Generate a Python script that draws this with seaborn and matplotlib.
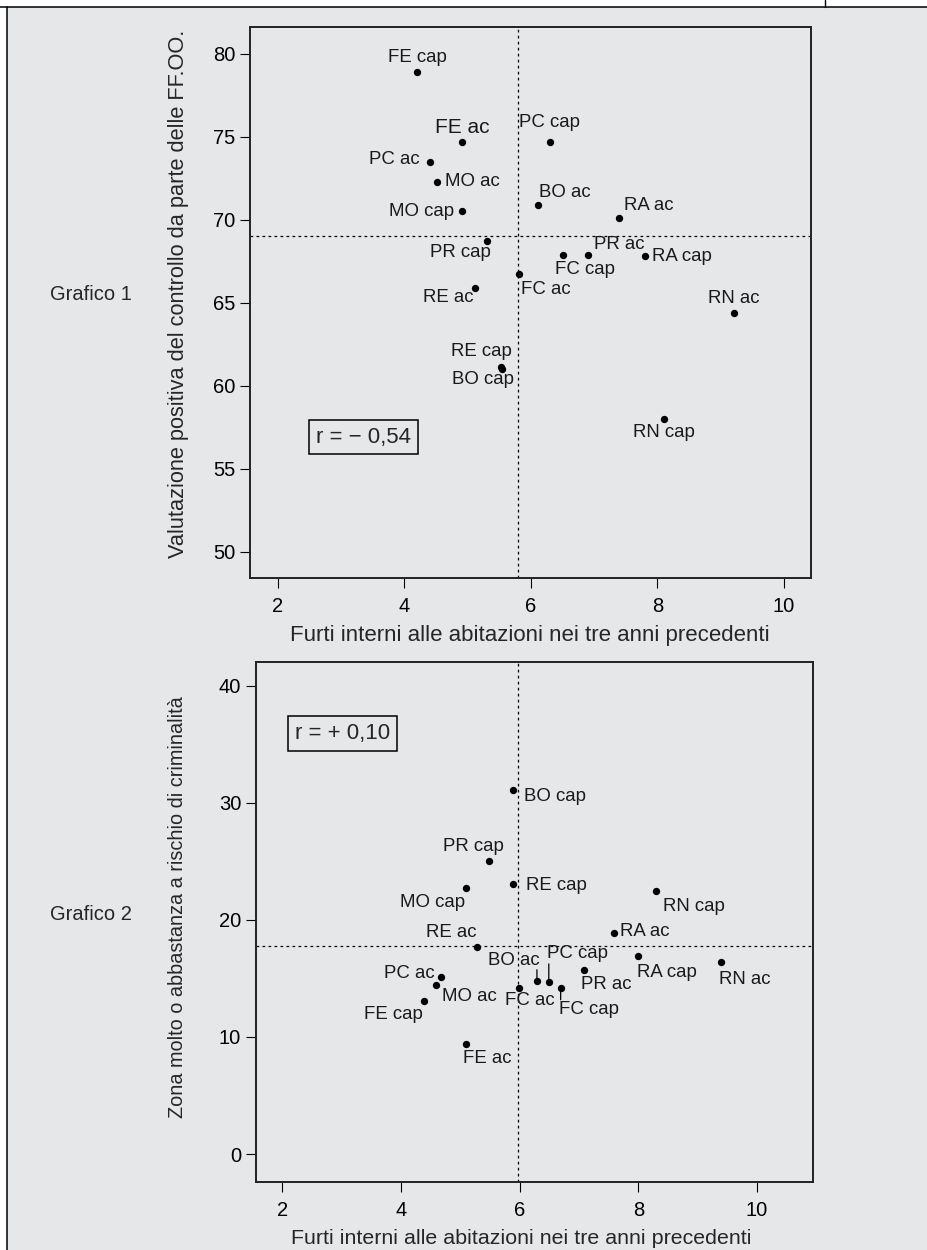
import matplotlib
matplotlib.use("Agg")
import matplotlib.pyplot as plt
import seaborn as sns
from matplotlib.patches import Rectangle
from matplotlib.lines import Line2D

# ---- Grafico 1 ----
labels_1 = ["FE cap", "FE ac", "PC cap", "PC ac", "MO ac", "BO ac", "RA ac", "MO cap", "PR cap",
            "FC cap", "PR ac", "RA cap", "FC ac", "RE ac", "RN ac", "RE cap", "BO cap", "RN cap"]
furti_1 = [4.20, 4.91, 6.30, 4.41, 4.52, 6.11, 7.40, 4.91, 5.31,
           6.50, 6.91, 7.81, 5.81, 5.12, 9.21, 5.53, 5.55, 8.11]
controllo_1 = [78.9, 74.7, 74.7, 73.5, 72.3, 70.9, 70.1, 70.5, 68.7,
               67.9, 67.9, 67.8, 66.7, 65.9, 64.4, 61.1, 61.0, 58.0]
media_x_1 = 5.80
media_y_1 = 69.0
r_1 = "r = \u2212 0,54"

# ---- Grafico 2 ----
labels_2 = ["BO cap", "PR cap", "RE cap", "MO cap", "RN cap", "RA ac", "RE ac", "RA cap", "RN ac",
            "PC ac", "PR ac", "MO ac", "BO ac", "PC cap", "FC ac", "FC cap", "FE cap", "FE ac"]
furti_2 = [5.89, 5.48, 5.89, 5.09, 8.29, 7.59, 5.28, 7.99, 9.39,
           4.68, 7.09, 4.59, 6.29, 6.49, 5.99, 6.69, 4.38, 5.09]
rischio_2 = [31.1, 25.0, 23.1, 22.7, 22.5, 18.9, 17.7, 16.9, 16.4,
             15.1, 15.7, 14.4, 14.8, 14.7, 14.2, 14.2, 13.1, 9.4]
media_x_2 = 5.97
media_y_2 = 17.8
r_2 = "r = + 0,10"

xlabel = "Furti interni alle abitazioni nei tre anni precedenti"
ylabel_1 = "Valutazione positiva del controllo da parte delle FF.OO."
ylabel_2 = "Zona molto o abbastanza a rischio di criminalità"

# label placement: (dx px, dy px, ha)
pos_1 = {"FE cap": (0, 14, "center"), "FE ac": (0, 14, "center"), "PC cap": (0, 19, "center"),
         "PC ac": (-11, 2, "right"), "MO ac": (8, 0, "left"), "MO cap": (-8, 0, "right"),
         "BO ac": (1, 12, "left"), "RA ac": (5, 13, "left"), "PR cap": (4, -11, "right"),
         "FC cap": (-8, -15, "left"), "PR ac": (6, 10, "left"), "RA cap": (7, 0, "left"),
         "FC ac": (2, -15, "left"), "RE ac": (-2, -10, "right"), "RN ac": (0, 14, "center"),
         "RE cap": (11, 16, "right"), "BO cap": (12, -10, "right"), "RN cap": (0, -14, "center")}
pos_2 = {"BO cap": (11, -7, "left"), "PR cap": (-15, 15, "center"), "RE cap": (13, -2, "left"),
         "MO cap": (-1, -14, "right"), "RN cap": (7, -16, "left"), "RA ac": (6, 1, "left"),
         "RE ac": (0, 14, "right"), "RA cap": (-1, -16, "left"), "RN ac": (-2, -17, "left"),
         "PC ac": (-7, 4, "right"), "PR ac": (-3, -14, "left"), "MO ac": (6, -11, "left"),
         "BO ac": (3, 20, "right"), "PC cap": (-2, 28, "left"), "FC ac": (-14, -13, "left"),
         "FC cap": (-2, -22, "left"), "FE cap": (-1, -14, "right"), "FE ac": (-3, -15, "left")}
leaders_2 = {"BO ac": 11, "PC cap": 18, "FC cap": -12}

BG = "#e6e7e9"
PX = 0.72  # points per pixel at 100 dpi

sns.set_style("ticks")
plt.rcParams["font.family"] = ["Liberation Sans", "DejaVu Sans"]
plt.rcParams["axes.unicode_minus"] = True


def draw_panel(ax, labels, xs, ys, pos, leaders, mx, my, r_text, r_xy, xlim, ylim, yticks, ylabel,
               xlab=(0.5, -0.085, 15.4), ylab=(-0.12, 0.5, 15.4), big=()):
    ax.set_facecolor(BG)
    sns.scatterplot(x=xs, y=ys, ax=ax, color="black", s=28, linewidth=0, legend=False, zorder=3)
    ax.axvline(mx, color="black", lw=0.9, ls=(0, (2.2, 2.6)), zorder=1)
    ax.axhline(my, color="black", lw=0.9, ls=(0, (2.2, 2.6)), zorder=1)
    for lab, x, y in zip(labels, xs, ys):
        dx, dy, ha = pos[lab]
        ax.annotate(lab, (x, y), xytext=(dx * PX, dy * PX), textcoords="offset points",
                    ha=ha, va="center", fontsize=15 if lab in big else 13.4, color="#1a1a1a")
        if lab in leaders:
            ax.annotate("", (x, y), xytext=(0, leaders[lab] * PX), textcoords="offset points",
                        arrowprops=dict(arrowstyle="-", lw=0.9, color="black", shrinkA=0, shrinkB=2))
    ax.text(r_xy[0], r_xy[1], r_text, transform=ax.transAxes, ha="center", va="center", fontsize=16,
            bbox=dict(boxstyle="square,pad=0.3", fc="none", ec="black", lw=1.1))
    ax.set_xlim(*xlim)
    ax.set_ylim(*ylim)
    ax.set_xticks([2, 4, 6, 8, 10])
    ax.set_yticks(yticks)
    ax.tick_params(direction="out", length=7.5, width=0.8, labelsize=14.5, pad=3, colors="black")
    ax.tick_params(axis="x", pad=6)
    ax.set_xlabel(xlabel, fontsize=xlab[2])
    ax.set_ylabel(ylabel, fontsize=ylab[2])
    ax.xaxis.set_label_coords(xlab[0], xlab[1])
    ax.yaxis.set_label_coords(ylab[0], ylab[1])
    for sp in ax.spines.values():
        sp.set_visible(True)
        sp.set_linewidth(1.4)
        sp.set_color("#222222")


fig = plt.figure(figsize=(9.27, 12.5), dpi=100, facecolor="white")
fig.patches.append(Rectangle((7 / 927, 0), 1, 1 - 7.3 / 1250, transform=fig.transFigure,
                             facecolor=BG, edgecolor="none", zorder=-5))
fig.lines.append(Line2D([0, 1], [1 - 7.3 / 1250] * 2, transform=fig.transFigure, color="black", lw=1.1))
fig.lines.append(Line2D([7 / 927] * 2, [0, 1 - 7.3 / 1250], transform=fig.transFigure, color="black", lw=1.1))
fig.lines.append(Line2D([825 / 927] * 2, [1, 1 - 7.3 / 1250], transform=fig.transFigure, color="black", lw=1.0))

ax1 = fig.add_axes([0.2697, 0.5374, 0.6052, 0.4414])
draw_panel(ax1, labels_1, furti_1, controllo_1, pos_1, {}, media_x_1, media_y_1, r_1, (0.202, 0.256),
           (1.557, 10.43), (48.4, 81.64), [50, 55, 60, 65, 70, 75, 80], ylabel_1,
           xlab=(0.498, -0.085, 16.0), ylab=(-0.108, 0.516, 15.7), big=("FE ac",))

ax2 = fig.add_axes([0.2758, 0.0546, 0.6017, 0.4160])
draw_panel(ax2, labels_2, furti_2, rischio_2, pos_2, leaders_2, media_x_2, media_y_2, r_2, (0.156, 0.862),
           (1.55, 10.95), (-2.37, 42.05), [0, 10, 20, 30, 40], ylabel_2,
           xlab=(0.476, -0.09, 15.4), ylab=(-0.123, 0.528, 14.3))

fig.text(50 / 927, 1 - 294 / 1250, "Grafico 1", fontsize=14.5, ha="left", va="center")
fig.text(50 / 927, 1 - 915 / 1250, "Grafico 2", fontsize=14.5, ha="left", va="center")

fig.savefig("out.png", dpi=100, facecolor="white")
